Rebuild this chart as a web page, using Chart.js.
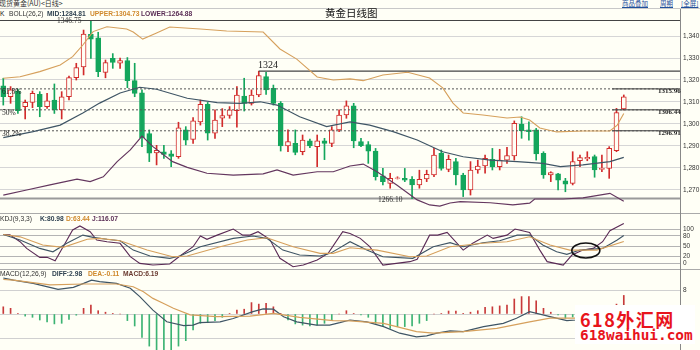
<!DOCTYPE html>
<html><head><meta charset="utf-8">
<script src="https://cdn.jsdelivr.net/npm/chart.js@4.4.1/dist/chart.umd.min.js"></script>
<style>
html,body{margin:0;padding:0;}
body{background:#fffff6;width:700px;height:350px;overflow:hidden;position:relative;font-family:"Liberation Sans",Arial,sans-serif;color:#222;}
.t{position:absolute;white-space:nowrap;line-height:1;z-index:5;}
.cv{position:absolute;left:0;}
.hl{position:absolute;z-index:4;}
.b{font-weight:bold;}
.s7{font-size:6.7px;}
.serif{font-family:"Liberation Serif",serif;}
.cjk{font-family:"Noto Sans CJK SC",sans-serif;}
</style></head><body>
<canvas id="cMain" class="cv" width="700" height="190" style="top:21px"></canvas>
<canvas id="cKdj" class="cv" width="700" height="54" style="top:215px"></canvas>
<canvas id="cMacd" class="cv" width="700" height="80" style="top:270px"></canvas>

<div class="hl" style="left:0;top:8px;width:700px;height:1px;background:#c8c8c8"></div>
<div class="hl" style="left:0;top:20px;width:680px;height:1px;background:#444"></div>
<div class="hl" style="left:0;top:213px;width:700px;height:1px;background:#aaa"></div>
<div class="hl" style="left:0;top:269px;width:700px;height:1px;background:#aaa"></div>
<div class="hl" style="left:680px;top:9px;width:1px;height:341px;background:#888"></div>

<div class="t cjk" style="left:-1px;top:0px;font-size:7px;color:#333">现货黄金(AU)&lt;日线&gt;</div>
<div class="t cjk" style="left:622px;top:0px;font-size:6.5px;color:#1f4f9c;text-decoration:underline">商品叠加</div>
<div class="t cjk" style="left:660px;top:0px;font-size:6.5px;color:#1f4f9c;text-decoration:underline">周期</div>
<div class="t cjk" style="left:681px;top:0px;font-size:6.5px;color:#1f4f9c;text-decoration:underline">[全屏]</div>

<div class="t s7" style="left:0;top:10.5px">K</div>
<div class="t s7" style="left:9px;top:10.5px;color:#333">BOLL(26,2)</div>
<div class="t s7 b" style="left:47px;top:10.5px;color:#2e4150">MID:1284.81</div>
<div class="t s7 b" style="left:90px;top:10.5px;color:#d0892c">UPPER:1304.73</div>
<div class="t s7 b" style="left:141px;top:10.5px;color:#5a2d55">LOWER:1264.88</div>
<div class="t cjk" style="left:325px;top:8px;font-size:10.5px;color:#111">黄金日线图</div>

<div class="t serif" style="left:57px;top:17px;font-size:7.5px;color:#333">1346.75</div>
<div class="t serif" style="left:258px;top:60px;font-size:10px;color:#222">1324</div>
<div class="t serif" style="left:378px;top:195.5px;font-size:7.5px;color:#333">1266.10</div>
<div class="t serif" style="left:2px;top:87.5px;font-size:7.5px;color:#222">61.8%</div>
<div class="t serif" style="left:2px;top:108.5px;font-size:7.5px;color:#222">50%</div>
<div class="t serif" style="left:2px;top:129.5px;font-size:7.5px;color:#222">38.2%</div>
<div class="t serif b" style="left:658px;top:87.5px;font-size:7px;color:#222">1315.96</div>
<div class="t serif b" style="left:658px;top:108.5px;font-size:7px;color:#222">1306.44</div>
<div class="t serif b" style="left:658px;top:129.5px;font-size:7px;color:#222">1296.91</div>

<div class="t s7" style="left:0;top:216px;color:#333">KDJ(9,3,3)</div>
<div class="t s7 b" style="left:40px;top:216px;color:#2e4150">K:80.98</div>
<div class="t s7 b" style="left:66px;top:216px;color:#d0892c">D:63.44</div>
<div class="t s7 b" style="left:92px;top:216px;color:#5a2d55">J:116.07</div>

<div class="t s7" style="left:0;top:271px;color:#333">MACD(12,26,9)</div>
<div class="t s7 b" style="left:52px;top:271px;color:#2e4150">DIFF:2.98</div>
<div class="t s7 b" style="left:88px;top:271px;color:#d0892c">DEA:-0.11</div>
<div class="t s7 b" style="left:123px;top:271px;color:#6a3a30">MACD:6.19</div>

<div style="position:absolute;left:575px;top:305px;width:120px;height:39px;background:#fff;z-index:6"></div>
<div class="t cjk" style="left:580px;top:310px;font-size:18px;letter-spacing:1.5px;color:#e8141c;font-weight:bold;z-index:7">618外汇网</div>
<div class="t" style="left:580px;top:328px;font-family:'DejaVu Sans Mono',monospace;font-size:14.4px;color:#e8141c;font-weight:bold;z-index:7">618waihui.com</div>

<script>
// ---------- Data ----------
const open  = [1317.3,1312.4,1315.0,1307.9,1309.8,1313.5,1307.9,1310.9,1306.4,1312.4,1321.1,1326.0,1340.8,1339.2,1323.5,1329.8,1327.6,1328.8,1319.7,1314.2,1295.7,1286.8,1287.4,1286.4,1285.2,1297.3,1293.0,1301.0,1308.9,1295.8,1302.6,1303.9,1306.1,1312.7,1309.4,1313.2,1321.5,1316.2,1309.4,1290.0,1291.2,1287.4,1292.3,1289.7,1292.4,1291.2,1297.3,1304.1,1308.3,1292.0,1290.6,1287.7,1276.4,1273.0,1275.3,1275.3,1274.8,1272.3,1275.0,1276.8,1286.7,1279.4,1282.9,1276.8,1270.0,1279.1,1280.9,1283.9,1280.6,1283.6,1285.5,1300.0,1297.3,1297.3,1286.7,1276.8,1277.3,1274.2,1273.0,1283.3,1284.1,1285.2,1279.4,1279.8,1287.9,1306.8];
const high  = [1320.8,1317.0,1315.9,1310.9,1315.0,1314.7,1313.9,1318.2,1314.7,1321.8,1327.6,1342.7,1346.75,1341.7,1329.1,1332.0,1330.0,1330.2,1327.6,1315.5,1297.3,1290.3,1290.3,1287.9,1300.8,1298.8,1302.9,1310.9,1309.8,1306.4,1307.0,1307.9,1317.0,1320.8,1315.5,1324.0,1323.5,1317.7,1310.2,1297.3,1297.3,1295.0,1293.2,1295.0,1293.5,1298.8,1306.4,1310.5,1309.4,1293.5,1292.0,1288.9,1279.8,1277.6,1276.0,1279.8,1276.1,1279.0,1279.0,1288.9,1288.2,1285.9,1284.4,1277.6,1282.9,1283.6,1285.9,1288.9,1288.5,1289.4,1301.4,1303.3,1301.0,1298.0,1287.4,1278.3,1277.6,1275.3,1287.4,1285.9,1287.4,1285.9,1285.9,1289.7,1307.1,1313.2];
const low   = [1308.6,1309.4,1304.8,1302.3,1307.4,1303.3,1307.1,1304.8,1302.3,1310.9,1320.0,1322.3,1329.8,1321.5,1321.0,1325.3,1325.3,1316.5,1312.4,1289.7,1282.9,1281.4,1284.4,1280.6,1284.4,1290.5,1291.2,1299.5,1292.7,1293.5,1298.8,1302.6,1298.6,1305.9,1308.6,1312.4,1313.5,1308.6,1287.7,1287.4,1286.0,1286.0,1289.2,1280.6,1283.8,1289.7,1296.5,1302.6,1289.2,1289.7,1282.1,1274.5,1272.3,1270.8,1275.0,1273.8,1266.1,1270.8,1273.8,1276.1,1279.0,1278.3,1272.3,1267.0,1267.7,1277.6,1277.6,1279.1,1279.1,1282.1,1283.6,1293.5,1292.7,1283.6,1275.3,1273.8,1270.0,1269.2,1272.3,1280.6,1283.3,1275.8,1278.3,1275.3,1287.4,1306.4];
const close = [1312.4,1315.5,1306.1,1309.8,1313.9,1307.9,1310.5,1306.4,1312.4,1321.1,1325.6,1340.9,1338.6,1323.8,1327.9,1328.0,1328.8,1319.7,1313.9,1293.8,1286.7,1288.0,1286.2,1285.3,1298.3,1292.7,1301.4,1308.9,1295.8,1301.8,1303.8,1306.4,1313.2,1309.4,1313.2,1322.0,1315.5,1309.4,1290.0,1292.0,1287.1,1292.7,1290.0,1292.3,1291.2,1297.3,1304.1,1308.3,1292.3,1290.2,1287.6,1276.1,1273.8,1275.3,1275.5,1274.5,1272.3,1274.8,1277.1,1285.9,1279.8,1283.9,1276.8,1270.0,1279.1,1280.9,1284.4,1280.6,1283.6,1285.6,1300.3,1297.0,1296.5,1286.4,1276.8,1277.9,1274.5,1272.7,1282.9,1284.7,1284.8,1279.1,1279.8,1288.9,1305.2,1312.4];

// Bollinger lines: [candle index, price]
const bollUpper = [[0,1320.8],[2.3,1321.5],[5,1323.8],[7.8,1326.8],[9.5,1330.6],[10.9,1335.9],[12.3,1342.0],[14.2,1344.2],[16.9,1343.2],[17.8,1341.8],[19.1,1338.6],[21,1341.4],[22.8,1344.1],[27,1343.2],[30.6,1342.3],[35.6,1341.8],[37.9,1334.1],[40.2,1329.5],[43,1321.4],[45.2,1320],[47.5,1320.5],[49.3,1319.7],[52,1322.3],[55.4,1323.5],[58.4,1320.9],[60.2,1316.4],[61.6,1309.5],[63,1305],[65.7,1304.1],[69,1302.7],[70.8,1303.2],[72.1,1301.8],[73.5,1298.2],[75.8,1296.4],[79.4,1296.8],[83.1,1296.8],[84.1,1299.5],[85,1304.73]];
const bollMid = [[0,1293.8],[4.1,1296.5],[7.8,1299.5],[10.9,1305],[13.2,1309.5],[16,1314.1],[18.7,1316.7],[21,1315.8],[25.2,1311.7],[29.3,1309.7],[32.4,1309.4],[35.2,1310.1],[37.5,1308.6],[40.6,1303.3],[44.3,1298.8],[47.5,1301],[50.2,1299.5],[53.4,1296.5],[56.7,1292.7],[60.2,1287.4],[63,1285.1],[66.7,1283.6],[70.4,1282.9],[73.9,1282.1],[76.3,1280.6],[79.4,1281.4],[83.1,1282.9],[85,1284.81]];
const bollLower = [[0,1267.7],[3.2,1270],[6.4,1272.3],[10.1,1274.9],[11.9,1273.8],[13.7,1276],[15.6,1282.9],[17.4,1288.2],[19,1294.5],[20.5,1289.7],[23.2,1282.9],[25.2,1280.3],[27.9,1277.6],[31.5,1276.8],[35.6,1277.3],[37.5,1279.1],[39.7,1276.8],[43,1278.3],[45.2,1278.3],[47.5,1280.9],[49.3,1281.8],[51.2,1278.3],[53.9,1272.3],[56.7,1265.5],[58.4,1263.2],[59.8,1262.7],[61.2,1264.1],[62.6,1264.7],[66.7,1264.2],[69.8,1263.2],[72.1,1264],[72.8,1265.9],[76.7,1265.9],[79.4,1266.4],[83.1,1268.5],[85,1264.88]];

// KDJ lines: [candle index, value]
const kdjK = [[0,84],[2.3,67.6],[5,43],[6.8,33],[8.7,58],[10.9,82],[12.3,75.5],[14.2,69.7],[16,65.6],[17.8,38],[20.1,20.6],[22.8,13.8],[24.2,20.6],[27,48],[31.5,72.5],[34.2,79.4],[36.1,72.5],[38.3,38],[40.6,23.5],[43.4,20.6],[44.8,28.4],[47.5,62.7],[49.8,38],[52,18.6],[56.1,13.8],[58.9,48],[61.2,59.8],[63,48],[65.7,59.8],[68,65.6],[70.4,82],[72.1,82],[73.9,53],[75.8,33],[77.2,25.6],[79,38],[82.1,43],[84.1,67.6],[85,80.98]];
const kdjD = [[0,84],[2.3,77],[5.4,53],[8.2,46],[11.5,69.7],[13.2,72.5],[16,65.6],[19.7,38],[23.2,18.6],[25.2,20.6],[29.7,48],[33.4,67.6],[36.1,74.4],[39.7,48],[43.4,28.4],[45.2,28.4],[47.5,45],[51.2,38],[55.7,18.6],[58,20.6],[61.2,48],[65.7,58],[69,62.7],[72.1,77],[74.9,53],[77.6,38],[81.3,38],[85,63.44]];
const kdjJ = [[0,84],[0.9,83],[2.3,62.7],[3.2,43],[5,16.7],[6,16.7],[7.1,6.8],[8.2,48],[9.5,97],[10.5,109],[11.9,92],[12.8,67.6],[14.2,62.7],[16,58],[17.4,18.6],[18.7,-1],[20.5,-6],[22.8,-3],[24.2,20.6],[26,48],[27,79.4],[27.9,69.7],[29.3,82],[31.5,100],[32.8,82],[33.8,82],[34.9,92],[36.5,69.7],[37.9,13.8],[39.7,-11],[41.1,-6],[43,8.8],[44.5,28.4],[46.5,92],[47.5,87],[48.9,72.5],[50.2,48],[52,-6],[55.7,4],[56.7,11],[58.4,82],[59.5,82],[60.8,90],[63,38],[64.3,58],[66.3,82],[67.1,72.5],[69,82],[70.1,100],[72.1,90],[73.5,38],[74.5,4],[76.7,-6],[77.9,23.5],[79.4,38],[80.8,43],[82.1,62.7],[83.1,95],[85,116.07]];

// MACD
const macdHist = [2.4,1.9,0.2,-0.7,-1.1,-2.0,-2.6,-3.3,-3.1,-1.8,-0.4,1.9,3.0,1.1,0.6,0.1,0,-2.2,-4.0,-7.8,-10.7,-12.0,-12.0,-12.0,-10.7,-8.9,-5.3,-3.1,-2.9,-2.2,-1.1,0.2,1.3,1.6,3.8,3.3,3.6,2.4,0.1,-2.0,-3.3,-3.7,-4.0,-3.7,-3.1,-2.0,0,1.1,0.2,-0.3,-1.1,-3.1,-4.0,-4.8,-4.2,-4.2,-4.0,-3.1,-2.2,0,0.2,1.0,1.0,0.1,0.6,1.1,2.2,2.4,2.7,3.0,5.0,5.8,5.8,4.4,1.9,0.6,-0.3,-1.4,-1.0,-0.5,0.3,0.2,0.6,1.6,3.3,6.19];
const macdDiff = [[0,12],[1.4,11.3],[4.1,10.2],[6.8,8.6],[7.5,8.2],[9.6,8.9],[11,10.2],[12.1,11.3],[13.2,10.8],[15.5,10.2],[17.4,8.6],[18.7,5.8],[20.5,1.3],[22.4,-2.6],[24.7,-3.9],[26,-3.7],[26.9,-2.9],[29.7,-2.6],[31.5,-1.5],[34.2,0.8],[35.6,1.7],[37,1.6],[38.4,-0.9],[40.2,-2.6],[42.9,-3.7],[44.7,-3.7],[46.1,-2.9],[47.5,-2],[49.8,-2.6],[52.1,-4.2],[54.3,-6.4],[56.6,-7.6],[58,-7.3],[59.4,-6.4],[61.2,-5.6],[63,-5.9],[65.8,-4.2],[68.5,-3.1],[70.3,-1.4],[72.1,0.8],[74.9,-0.9],[77.2,-2.2],[78.5,-2],[80.5,-1.3],[82.5,-0.2],[84,1.4],[85,2.98]];
const macdDea = [[0,11.5],[1.4,11.3],[6.4,9.7],[11,10],[15.5,10],[17.8,9.1],[19.2,7.4],[20.5,5.2],[21.9,3.6],[23.3,1.9],[25.6,-0.3],[29.2,-0.9],[33.8,-0.7],[37,0.2],[40.6,-1.1],[45.2,-2.2],[47.5,-2.3],[52.1,-3.1],[56.6,-5.9],[58.9,-6.4],[63,-5.9],[67.6,-4.8],[72.1,-2.6],[74.9,-1.4],[78.5,-1.4],[82,-0.9],[85,-0.11]];

// Levels and ticks
const fibLevels = [1315.96, 1306.44, 1296.91];
const highLevel = 1324, highLevelFrom = 35;
const lowLevel = 1266.10;
const mainTicks = [1270,1280,1290,1300,1310,1320,1330,1340];
const kdjTicks = [0,20,50,80,100];
const macdTicks = [-8,0,8];
const ovalAt = [79.8, 36.8];

// ---------- Styles ----------
const BG = '#fffff6', RED = '#d22b2b', GREEN = '#14a65c';
const C_MID = '#3f5565', C_UP = '#d6a05c', C_LOW = '#64375f';
const X_MIN = -0.45, X_MAX = 92.7, LEVEL_SOLID_FROM = 83.4;

const idx = open.map((_, i) => i);
const isUp = idx.map(i => close[i] >= open[i]);
const pts = arr => arr.map(([x, y]) => ({x, y}));
const seg = (x0, x1, y) => [{x: x0, y}, {x: x1, y}];

function lineDs(data, color, w, extra) {
  return Object.assign({type:'line', data, borderColor:color, borderWidth:w, pointRadius:0, fill:false, tension:0, order:1}, extra || {});
}
function yScale(min, max, ticks, gridColor) {
  return {
    position:'right', min, max,
    afterBuildTicks: s => { s.ticks = ticks.map(v => ({value:v})); },
    afterFit: s => { s.width = 20; s.paddingTop = 0; s.paddingBottom = 0; },
    ticks:{ font:{family:'Liberation Sans', size:6.5}, color:'#333', padding:3, autoSkip:false },
    grid:{ color:gridColor, drawTicks:false, lineWidth:1 },
    border:{ display:false }
  };
}
const xScale = { type:'linear', min:X_MIN, max:X_MAX, display:false, offset:false };
const common = {
  responsive:false, animation:false,
  layout:{ padding:0, autoPadding:false },
  plugins:{ legend:{display:false}, tooltip:{enabled:false} },
  events:[]
};

// ---------- Main chart ----------
const mainDs = [
  lineDs(pts(bollUpper), C_UP, 1.1),
  lineDs(pts(bollMid), C_MID, 1.2),
  lineDs(pts(bollLower), C_LOW, 1.2),
  ...fibLevels.map(v => lineDs(seg(X_MIN, X_MAX, v), '#555', 1, {borderDash:[2,2]})),
  ...fibLevels.map(v => lineDs(seg(LEVEL_SOLID_FROM, X_MAX, v), '#333', 1)),
  lineDs(seg(highLevelFrom, X_MAX, highLevel), '#444', 1.2),
  lineDs(seg(X_MIN, X_MAX, lowLevel), '#9a9a9a', 2, {order:4}),
  { type:'bar', data: idx.map(i => ({x:i, y:[low[i], high[i]]})),
    backgroundColor: idx.map(i => isUp[i] ? RED : GREEN), barThickness:1, grouped:false, order:3 },
  { type:'bar', data: idx.map(i => ({x:i, y:[open[i], close[i]]})),
    backgroundColor: idx.map(i => isUp[i] ? BG : GREEN),
    borderColor: idx.map(i => isUp[i] ? RED : GREEN),
    borderWidth:1, borderSkipped:false, barThickness:5, grouped:false, order:2 }
];
new Chart(document.getElementById('cMain'), {
  type:'bar', data:{ datasets: mainDs },
  options: Object.assign({}, common, { scales:{ x:xScale, y:yScale(1260.45, 1346.82, mainTicks, '#d6d6d6') } })
});

// ---------- KDJ chart ----------
const ovalPlugin = {
  id:'oval',
  afterDatasetsDraw(chart) {
    const {ctx, scales:{x, y}} = chart;
    ctx.save();
    ctx.beginPath();
    ctx.ellipse(x.getPixelForValue(ovalAt[0]), y.getPixelForValue(ovalAt[1]), 14, 7.5, 0, 0, Math.PI * 2);
    ctx.strokeStyle = '#111'; ctx.lineWidth = 1.6; ctx.stroke();
    ctx.restore();
  }
};
new Chart(document.getElementById('cKdj'), {
  type:'line',
  data:{ datasets:[
    lineDs(pts(kdjD), '#d6a05c', 1.1),
    lineDs(pts(kdjK), '#3f5565', 1.1),
    lineDs(pts(kdjJ), '#5a2a55', 1.1)
  ]},
  options: Object.assign({}, common, { scales:{ x:xScale, y:yScale(-17.6, 141.2, kdjTicks, '#b4b4b4') } }),
  plugins:[ovalPlugin]
});

// ---------- MACD chart ----------
new Chart(document.getElementById('cMacd'), {
  type:'bar',
  data:{ datasets:[
    lineDs(pts(macdDea), '#d6a05c', 1.2),
    lineDs(pts(macdDiff), '#3f5565', 1.2),
    { type:'bar', data: idx.map(i => ({x:i, y:macdHist[i]})),
      backgroundColor: idx.map(i => macdHist[i] >= 0 ? '#c83a3a' : '#3cb373'),
      barThickness:1, grouped:false, order:2 }
  ]},
  options: Object.assign({}, common, { scales:{ x:xScale, y:yScale(-12, 14.67, macdTicks, '#d0d0d0') } })
});
</script>
</body></html>
